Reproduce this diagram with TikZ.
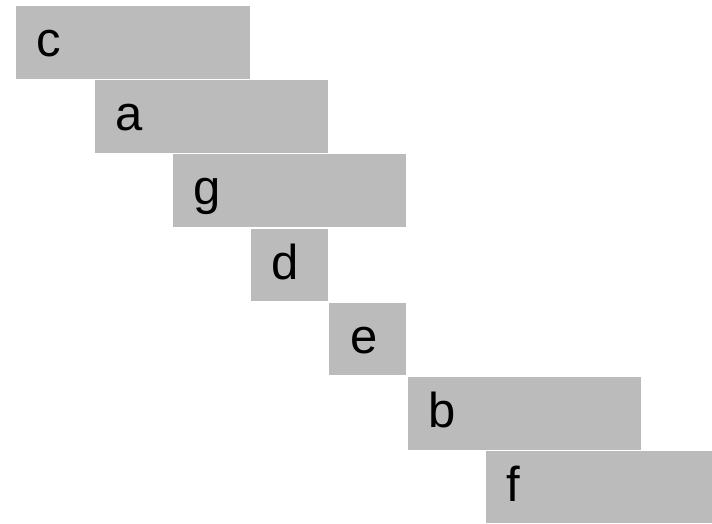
\documentclass[tikz,border=0pt]{standalone}
\usepackage{fontspec}
\setmainfont{Liberation Sans}
\usetikzlibrary{calc}
\definecolor{barfill}{HTML}{BBBBBB}
\tikzset{
  bar/.style={fill=barfill, draw=none, inner sep=0pt, outer sep=0pt, anchor=north west, minimum height=72.5pt},
  lbl/.style={inner sep=0pt, anchor=base west, font=\fontsize{49}{57}\selectfont, text=black}
}
\begin{document}
\begin{tikzpicture}[x=1pt,y=-1pt]
\useasboundingbox (0,0) rectangle (712,523);
\node[bar, minimum width=234pt] (c) at (16,6) {};
\node[bar, minimum width=233pt] (a) at (94.5,80) {};
\node[bar, minimum width=233pt] (g) at (172.7,154.3) {};
\node[bar, minimum width=77pt] (d) at (251,228.6) {};
\node[bar, minimum width=77pt] (e) at (329.3,302.9) {};
\node[bar, minimum width=233pt] (b) at (407.7,377.2) {};
\node[bar, minimum width=226pt] (f) at (486,450.5) {};
\node[lbl] (cl) at ($(c.north west)+(20.5,50.5)$) {c};
\node[lbl] (al) at ($(a.north west)+(20.5,50.5)$) {a};
\node[lbl] (gl) at ($(g.north west)+(20.5,50.5)$) {g};
\node[lbl] (dl) at ($(d.north west)+(20.5,50.5)$) {d};
\node[lbl] (el) at ($(e.north west)+(20.5,50.5)$) {e};
\node[lbl] (bl) at ($(b.north west)+(20.5,50.5)$) {b};
\node[lbl] (fl) at ($(f.north west)+(20.5,50.5)$) {f};
\end{tikzpicture}
\end{document}
